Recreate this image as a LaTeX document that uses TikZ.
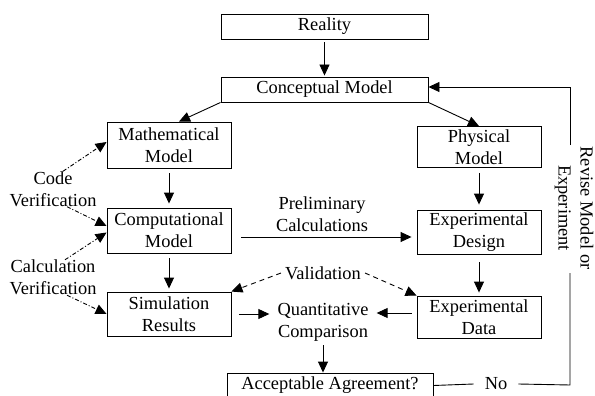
\documentclass[tikz,border=0pt]{standalone}
\usepackage{fontspec}
\setmainfont{Liberation Serif}
\usetikzlibrary{arrows.meta}
\begin{document}
\begin{tikzpicture}[x=1pt,y=-1pt, font=\fontsize{18.4}{22}\selectfont,
 box/.style={draw, line width=0.9pt, minimum width=124pt, minimum height=45pt, align=center, inner sep=0pt},
 wide/.style={draw, line width=0.9pt, minimum width=207pt, minimum height=25pt, inner sep=0pt},
 lbl/.style={align=center, inner sep=0pt},
 ln/.style={line width=0.9pt},
 arr/.style={line width=0.9pt, -{Triangle[length=11pt,width=10pt]}},
 dd/.style={arr, dash pattern=on 4pt off 2pt on 1pt off 2pt},
 dsh/.style={arr, dash pattern=on 5pt off 4pt}]
\useasboundingbox (0,0) rectangle (595,396);
\fill[white] (0,0) rectangle (595,396);
\node[wide] (real) at (324.5,26.5) {Reality};
\node[wide] (conc) at (324.5,89.5) {Conceptual Model};
\node[box, minimum height=46pt] (math) at (169,145) {Mathematical\\Model};
\node[box, minimum height=41pt] (phys) at (479,147) {Physical\\Model};
\node[box] (comp) at (169,230.5) {Computational\\Model};
\node[box, minimum height=44pt] (des) at (479,232) {Experimental\\Design};
\node[box, minimum height=44pt] (sim) at (169,314) {Simulation\\Results};
\node[box, minimum height=42pt] (dat) at (479,317) {Experimental\\Data};
\node[lbl, inner xsep=8pt, inner ysep=4pt] (qc) at (323,322) {Quantitative\\Comparison};
\node[lbl, inner xsep=4pt] (val) at (323,273) {Validation};
\node[lbl] (pre) at (322,214) {Preliminary\\Calculations};
\node[wide, minimum width=206pt] (acc) at (330,385.5) {Acceptable Agreement?};
\node[lbl, inner xsep=11pt] (no) at (496,384) {No};
\node[lbl, rotate=-90] (rev) at (574,208) {Revise Model or\\Experiment};
\node[lbl] (cv) at (53,189) {Code\\Verification};
\node[lbl] (calv) at (53,277.5) {Calculation\\Verification};
\coordinate (r1) at (570,385);
\coordinate (r2) at (570,273);
\coordinate (r3) at (570,145);
\coordinate (r4) at (570,87);
% main flow
\draw[arr, shorten <=3pt, shorten >=1pt] (real.south) -- (conc.north);
\draw[arr] (conc.south west) -- ([xshift=10pt]math.north);
\draw[arr] (conc.south east) -- (phys.north);
\draw[arr, shorten <=5pt, shorten >=4pt] (math.south) -- (comp.north);
\draw[arr, shorten <=5pt, shorten >=3pt] (comp.south) -- (sim.north);
\draw[arr, shorten <=5pt, shorten >=5pt] (phys.south) -- (des.north);
\draw[arr, shorten <=8pt, shorten >=3pt] (des.south) -- (dat.north);
\draw[arr] ([shift={(10pt,-6.5pt)}]comp.east) -- ([shift={(-5pt,-5pt)}]des.west);
\draw[arr] ([xshift=8pt]sim.east) -- (qc.west |- sim.east);
\coordinate (dq) at ([shift={(-5pt,4pt)}]dat.west);
\draw[arr] (dq) -- (qc.east |- dq);
\draw[arr] (qc.south) -- (qc.south |- acc.north);
% validation
\draw[dsh] (val.west) -- (sim.north east);
\draw[dsh] (val.east) -- (dat.north west);
% verification
\draw[dd] ([xshift=10pt]cv.north) -- ([yshift=3pt]math.west);
\draw[dd] ([xshift=14pt]cv.south) -- ([yshift=4.5pt]comp.west);
\draw[dd] ([xshift=12pt]calv.north) -- ([yshift=-2pt]comp.west);
\draw[dd] ([xshift=14pt]calv.south) -- (sim.west);
% revise loop
\draw[ln] (acc.east) -- (no.west);
\draw[ln] (no.east) -- (r1) -- (r2);
\draw[arr] (r3) -- (r4) -- ([yshift=2.5pt]conc.east);
\end{tikzpicture}
\end{document}
